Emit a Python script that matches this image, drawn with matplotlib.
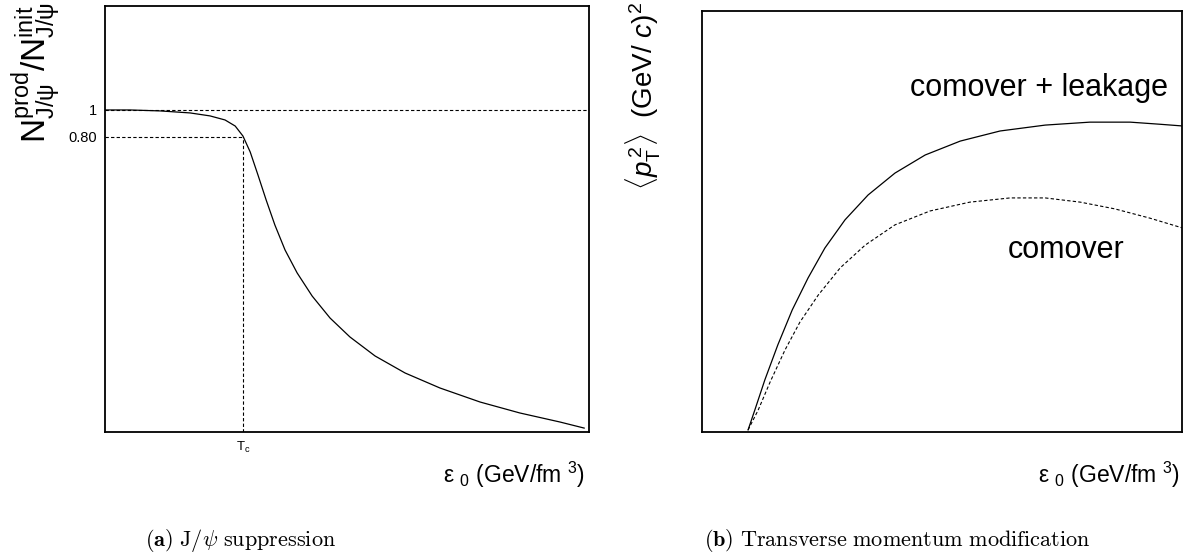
import matplotlib
matplotlib.use("Agg")
import matplotlib.pyplot as plt

plt.rcParams['font.family'] = ['Liberation Sans', 'DejaVu Sans']
plt.rcParams['mathtext.fontset'] = 'custom'
plt.rcParams['mathtext.rm'] = 'Liberation Sans'
plt.rcParams['mathtext.it'] = 'Liberation Sans:italic'
plt.rcParams['mathtext.bf'] = 'Liberation Sans:bold'

# (a) J/psi suppression, arbitrary energy units
eps_a = [0.0, 0.052, 0.114, 0.176, 0.217, 0.248, 0.269, 0.285, 0.300, 0.316,
         0.333, 0.351, 0.372, 0.397, 0.428, 0.465, 0.506, 0.558, 0.620, 0.692,
         0.775, 0.857, 0.940, 0.990]
ratio_a = [1.0, 1.0, 0.993, 0.978, 0.956, 0.926, 0.881, 0.807, 0.689, 0.519,
           0.333, 0.148, -0.037, -0.207, -0.378, -0.541, -0.681, -0.822, -0.948,
           -1.059, -1.163, -1.244, -1.311, -1.356]
T_c = 0.285
ratio_Tc = 0.80

# (b) <pT^2> vs energy density
eps_leak = [0.096, 0.110, 0.131, 0.158, 0.188, 0.221, 0.256, 0.298, 0.346, 0.402,
            0.465, 0.538, 0.621, 0.715, 0.808, 0.892, 0.954, 1.0]
pt2_leak = [0.005, 0.052, 0.124, 0.207, 0.290, 0.366, 0.437, 0.504, 0.563, 0.615,
            0.658, 0.691, 0.715, 0.729, 0.736, 0.736, 0.731, 0.727]
eps_como = [0.096, 0.117, 0.142, 0.173, 0.204, 0.242, 0.288, 0.340, 0.402, 0.475,
            0.558, 0.642, 0.715, 0.788, 0.860, 0.933, 1.0]
pt2_como = [0.005, 0.052, 0.119, 0.195, 0.261, 0.325, 0.390, 0.444, 0.492, 0.525,
            0.546, 0.556, 0.556, 0.546, 0.530, 0.508, 0.485]

W, H = 1201, 559
fig = plt.figure(figsize=(W/100, H/100), dpi=100)

ax1 = fig.add_axes([105/W, (H-432)/H, 484/W, 426/H])
ax2 = fig.add_axes([702/W, (H-432)/H, 480/W, 421/H])

dash = (0, (3, 2))

# --- left panel ---
ax1.plot(eps_a, ratio_a, color='black', lw=0.9)
ax1.axhline(1.0, color='black', lw=0.8, ls=dash)
ax1.plot([0, T_c], [ratio_Tc, ratio_Tc], color='black', lw=0.8, ls=dash)
ax1.plot([T_c, T_c], [-1.385, ratio_Tc], color='black', lw=0.8, ls=dash)
ax1.set_xlim(0, 1)
ax1.set_ylim(-1.385, 1.77)
ax1.set_yticks([1.0, ratio_Tc])
ax1.set_yticklabels(['1', '0.80'], fontsize=10.5)
ax1.set_xticks([T_c])
ax1.set_xticklabels([r'T$_{\mathrm{c}}$'], fontsize=9.5)
ax1.tick_params(length=0, pad=6)

# --- right panel ---
ax2.plot(eps_leak, pt2_leak, color='black', lw=0.9)
ax2.plot(eps_como, pt2_como, color='black', lw=0.8, ls=dash)
ax2.set_xlim(0, 1)
ax2.set_ylim(0, 1)
ax2.set_xticks([])
ax2.set_yticks([])
ax2.text(0.433, 0.817, 'comover + leakage', transform=ax2.transAxes,
         fontsize=22, va='center', ha='left')
ax2.text(0.6375, 0.432, 'comover', transform=ax2.transAxes,
         fontsize=22, va='center', ha='left')

for ax in (ax1, ax2):
    for s in ax.spines.values():
        s.set_linewidth(1.3)

# axis labels
xlab = r'ε $_{\mathrm{0}}$ (GeV/fm $^{\mathrm{3}}$)'
fig.text(585/W, 1 - 475/H, xlab, fontsize=16.5, ha='right', va='center')
fig.text(1180/W, 1 - 475/H, xlab, fontsize=16.5, ha='right', va='center')

fig.text(37/W, 1 - 2/H,
         r'$\mathrm{N^{prod}_{J/\psi}/N^{init}_{J/\psi}}$',
         fontsize=24, rotation=90, ha='center', va='top')
fig.text(643/W, 1 - 2/H,
         r'$\langle \mathit{p}^{\,2}_{\mathrm{T}} \rangle$  (GeV/ $\mathit{c}$)$^{2}$',
         fontsize=20, rotation=90, ha='center', va='top')

# captions
fig.text(240/W, 1 - 541/H, r'$\mathbf{(a)}\ \mathrm{J/\psi\ suppression}$',
         fontsize=16, ha='center', va='center', math_fontfamily='cm')
fig.text(897/W, 1 - 541/H,
         r'$\mathbf{(b)}\ \mathrm{Transverse\ momentum\ modification}$',
         fontsize=16, ha='center', va='center', math_fontfamily='cm')

fig.savefig('out.png', dpi=100)
